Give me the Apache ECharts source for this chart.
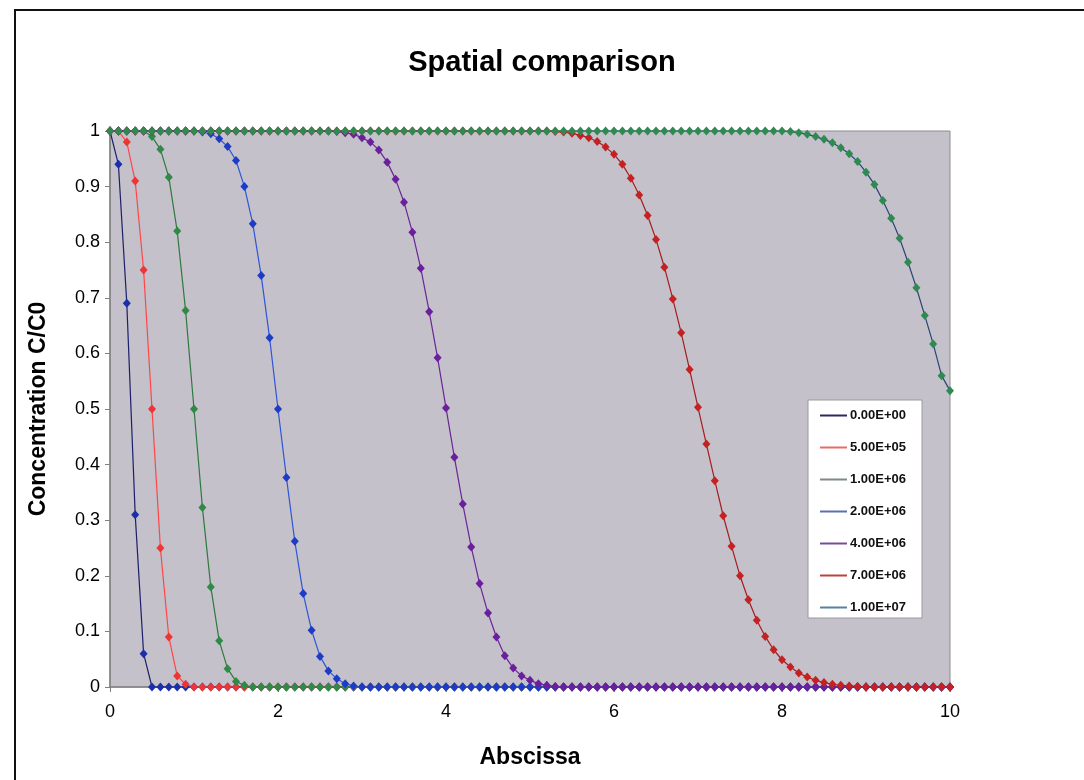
<!DOCTYPE html>
<html>
<head>
<meta charset="utf-8">
<script src="https://cdn.jsdelivr.net/npm/echarts@6/dist/echarts.min.js"></script>
<style>
  html, body { margin: 0; padding: 0; background: #fff; }
  #chart { width: 1084px; height: 780px; }
</style>
</head>
<body>
<div id="chart"></div>
<script>
const abscissa = [
  0, 0.1, 0.2, 0.3, 0.4, 0.5, 0.6, 0.7, 0.8, 0.9,
  1, 1.1, 1.2, 1.3, 1.4, 1.5, 1.6, 1.7, 1.8, 1.9,
  2, 2.1, 2.2, 2.3, 2.4, 2.5, 2.6, 2.7, 2.8, 2.9,
  3, 3.1, 3.2, 3.3, 3.4, 3.5, 3.6, 3.7, 3.8, 3.9,
  4, 4.1, 4.2, 4.3, 4.4, 4.5, 4.6, 4.7, 4.8, 4.9,
  5, 5.1, 5.2, 5.3, 5.4, 5.5, 5.6, 5.7, 5.8, 5.9,
  6, 6.1, 6.2, 6.3, 6.4, 6.5, 6.6, 6.7, 6.8, 6.9,
  7, 7.1, 7.2, 7.3, 7.4, 7.5, 7.6, 7.7, 7.8, 7.9,
  8, 8.1, 8.2, 8.3, 8.4, 8.5, 8.6, 8.7, 8.8, 8.9,
  9, 9.1, 9.2, 9.3, 9.4, 9.5, 9.6, 9.7, 9.8, 9.9,
  10
];

const seriesNames = ["0.00E+00", "5.00E+05", "1.00E+06", "2.00E+06", "4.00E+06", "7.00E+06", "1.00E+07"];

const conc_0 = [
  1, 0.94, 0.69, 0.31, 0.06, 0, 0, 0, 0, 0,
  0, 0, 0, 0, 0, 0, 0, 0, 0, 0,
  0, 0, 0, 0, 0, 0, 0, 0, 0, 0,
  0, 0, 0, 0, 0, 0, 0, 0, 0, 0,
  0, 0, 0, 0, 0, 0, 0, 0, 0, 0,
  0, 0, 0, 0, 0, 0, 0, 0, 0, 0,
  0, 0, 0, 0, 0, 0, 0, 0, 0, 0,
  0, 0, 0, 0, 0, 0, 0, 0, 0, 0,
  0, 0, 0, 0, 0, 0, 0, 0, 0, 0,
  0, 0, 0, 0, 0, 0, 0, 0, 0, 0,
  0
];

const conc_5e5 = [
  1, 1, 0.98, 0.91, 0.75, 0.5, 0.25, 0.09, 0.02, 0.005,
  0, 0, 0, 0, 0, 0, 0, 0, 0, 0,
  0, 0, 0, 0, 0, 0, 0, 0, 0, 0,
  0, 0, 0, 0, 0, 0, 0, 0, 0, 0,
  0, 0, 0, 0, 0, 0, 0, 0, 0, 0,
  0, 0, 0, 0, 0, 0, 0, 0, 0, 0,
  0, 0, 0, 0, 0, 0, 0, 0, 0, 0,
  0, 0, 0, 0, 0, 0, 0, 0, 0, 0,
  0, 0, 0, 0, 0, 0, 0, 0, 0, 0,
  0, 0, 0, 0, 0, 0, 0, 0, 0, 0,
  0
];

const conc_1e6 = [
  1, 1, 1, 1, 1, 0.99, 0.967, 0.917, 0.82, 0.677,
  0.5, 0.323, 0.18, 0.083, 0.033, 0.01, 0.003, 0, 0, 0,
  0, 0, 0, 0, 0, 0, 0, 0, 0, 0,
  0, 0, 0, 0, 0, 0, 0, 0, 0, 0,
  0, 0, 0, 0, 0, 0, 0, 0, 0, 0,
  0, 0, 0, 0, 0, 0, 0, 0, 0, 0,
  0, 0, 0, 0, 0, 0, 0, 0, 0, 0,
  0, 0, 0, 0, 0, 0, 0, 0, 0, 0,
  0, 0, 0, 0, 0, 0, 0, 0, 0, 0,
  0, 0, 0, 0, 0, 0, 0, 0, 0, 0,
  0
];

const conc_2e6 = [
  1, 1, 1, 1, 1, 1, 1, 1, 1, 1,
  1, 0.998, 0.995, 0.986, 0.972, 0.947, 0.9, 0.833, 0.74, 0.628,
  0.5, 0.377, 0.262, 0.168, 0.102, 0.055, 0.029, 0.015, 0.006, 0.002,
  0, 0, 0, 0, 0, 0, 0, 0, 0, 0,
  0, 0, 0, 0, 0, 0, 0, 0, 0, 0,
  0, 0, 0, 0, 0, 0, 0, 0, 0, 0,
  0, 0, 0, 0, 0, 0, 0, 0, 0, 0,
  0, 0, 0, 0, 0, 0, 0, 0, 0, 0,
  0, 0, 0, 0, 0, 0, 0, 0, 0, 0,
  0, 0, 0, 0, 0, 0, 0, 0, 0, 0,
  0
];

const conc_4e6 = [
  1, 1, 1, 1, 1, 1, 1, 1, 1, 1,
  1, 1, 1, 1, 1, 1, 1, 1, 1, 1,
  1, 1, 1, 1, 1, 1, 1, 0.999, 0.997, 0.994,
  0.988, 0.98, 0.966, 0.944, 0.913, 0.872, 0.818, 0.753, 0.675, 0.592,
  0.502, 0.413, 0.329, 0.252, 0.186, 0.133, 0.09, 0.056, 0.034, 0.02,
  0.012, 0.006, 0.003, 0.001, 0, 0, 0, 0, 0, 0,
  0, 0, 0, 0, 0, 0, 0, 0, 0, 0,
  0, 0, 0, 0, 0, 0, 0, 0, 0, 0,
  0, 0, 0, 0, 0, 0, 0, 0, 0, 0,
  0, 0, 0, 0, 0, 0, 0, 0, 0, 0,
  0
];

const conc_7e6 = [
  1, 1, 1, 1, 1, 1, 1, 1, 1, 1,
  1, 1, 1, 1, 1, 1, 1, 1, 1, 1,
  1, 1, 1, 1, 1, 1, 1, 1, 1, 1,
  1, 1, 1, 1, 1, 1, 1, 1, 1, 1,
  1, 1, 1, 1, 1, 1, 1, 1, 1, 1,
  1, 1, 1, 0.999, 0.998, 0.996, 0.992, 0.988, 0.981, 0.971,
  0.958, 0.94, 0.915, 0.885, 0.848, 0.805, 0.755, 0.698, 0.637, 0.571,
  0.503, 0.437, 0.371, 0.308, 0.253, 0.2, 0.157, 0.12, 0.091, 0.067,
  0.049, 0.036, 0.025, 0.018, 0.012, 0.008, 0.005, 0.003, 0.002, 0.001,
  0, 0, 0, 0, 0, 0, 0, 0, 0, 0,
  0
];

const conc_1e7 = [
  1, 1, 1, 1, 1, 1, 1, 1, 1, 1,
  1, 1, 1, 1, 1, 1, 1, 1, 1, 1,
  1, 1, 1, 1, 1, 1, 1, 1, 1, 1,
  1, 1, 1, 1, 1, 1, 1, 1, 1, 1,
  1, 1, 1, 1, 1, 1, 1, 1, 1, 1,
  1, 1, 1, 1, 1, 1, 1, 1, 1, 1,
  1, 1, 1, 1, 1, 1, 1, 1, 1, 1,
  1, 1, 1, 1, 1, 1, 1, 1, 1, 1,
  1, 0.999, 0.997, 0.994, 0.99, 0.985, 0.979, 0.97, 0.959, 0.945,
  0.926, 0.904, 0.875, 0.843, 0.807, 0.764, 0.718, 0.668, 0.617, 0.56,
  0.533
];

const allConc = [conc_0, conc_5e5, conc_1e6, conc_2e6, conc_4e6, conc_7e6, conc_1e7];

// line colour, marker colour, legend colour (legend looks faded in the scan)
const lineColors   = ["#1c1f6b", "#ff4646", "#2f7a3e", "#2f55d8", "#6a2596", "#a51c1c", "#2a4577"];
const markerColors = ["#1a2fa8", "#ee3535", "#2e8a45", "#1c3cc8", "#6a1f9c", "#c42222", "#2f8a52"];
const legendColors = ["#2a2a60", "#e86a6a", "#7f8a80", "#5a6fb0", "#7a4a9a", "#c04040", "#5a80a0"];

const chart = echarts.init(document.getElementById("chart"));

chart.setOption({
  animation: false,
  backgroundColor: "#ffffff",
  textStyle: { fontFamily: "Liberation Sans, Arial, sans-serif" },
  title: {
    text: "Spatial comparison",
    left: "center",
    top: 43,
    textStyle: { fontSize: 29, fontWeight: "bold", color: "#000" },
  },
  graphic: [
    {
      type: "rect",
      shape: { x: 15, y: 10, width: 1100, height: 800 },
      style: { fill: "none", stroke: "#111", lineWidth: 2 },
      silent: true,
    },
  ],
  grid: {
    left: 110,
    right: 134,
    top: 131,
    bottom: 93,
    show: true,
    backgroundColor: "#c4c1cb",
    borderColor: "#8c8c8c",
    borderWidth: 1,
  },
  legend: {
    orient: "vertical",
    left: 808,
    top: 400,
    padding: [9, 16, 4, 12],
    itemGap: 19,
    itemWidth: 27,
    itemHeight: 2,
    backgroundColor: "#ffffff",
    borderColor: "#9a9a9a",
    borderWidth: 1,
    selectedMode: false,
    textStyle: { fontSize: 13, fontWeight: "bold", color: "#111", padding: [0, 0, 0, -2] },
    data: seriesNames.map((name, i) => ({
      name,
      icon: "rect",
      itemStyle: { color: legendColors[i] },
    })),
  },
  xAxis: {
    type: "value",
    min: 0,
    max: 10,
    interval: 2,
    name: "Abscissa",
    nameLocation: "middle",
    nameGap: 59,
    nameTextStyle: { fontSize: 23, fontWeight: "bold", color: "#000" },
    axisLine: { lineStyle: { color: "#808080", width: 1.5 } },
    axisTick: { show: true, length: 5, lineStyle: { color: "#808080" } },
    axisLabel: { fontSize: 18, color: "#000", margin: 16 },
    splitLine: { show: false },
  },
  yAxis: {
    type: "value",
    min: 0,
    max: 1,
    interval: 0.1,
    name: "Concentration C/C0",
    nameLocation: "middle",
    nameGap: 60,
    nameRotate: 90,
    nameTextStyle: { fontSize: 23, fontWeight: "bold", color: "#000" },
    axisLine: { show: true, lineStyle: { color: "#808080", width: 1.5 } },
    axisTick: { show: true, length: 5, lineStyle: { color: "#808080" } },
    axisLabel: { fontSize: 18, color: "#000", margin: 10 },
    splitLine: { show: false },
  },
  series: seriesNames.map((name, i) => ({
    name,
    type: "line",
    data: abscissa.map((x, j) => [x, allConc[i][j]]),
    symbol: "diamond",
    symbolSize: [8, 9],
    showSymbol: true,
    clip: false,
    lineStyle: { color: lineColors[i], width: 1.2 },
    itemStyle: { color: markerColors[i], borderWidth: 0 },
    emphasis: { disabled: true },
  })),
});
</script>
</body>
</html>
